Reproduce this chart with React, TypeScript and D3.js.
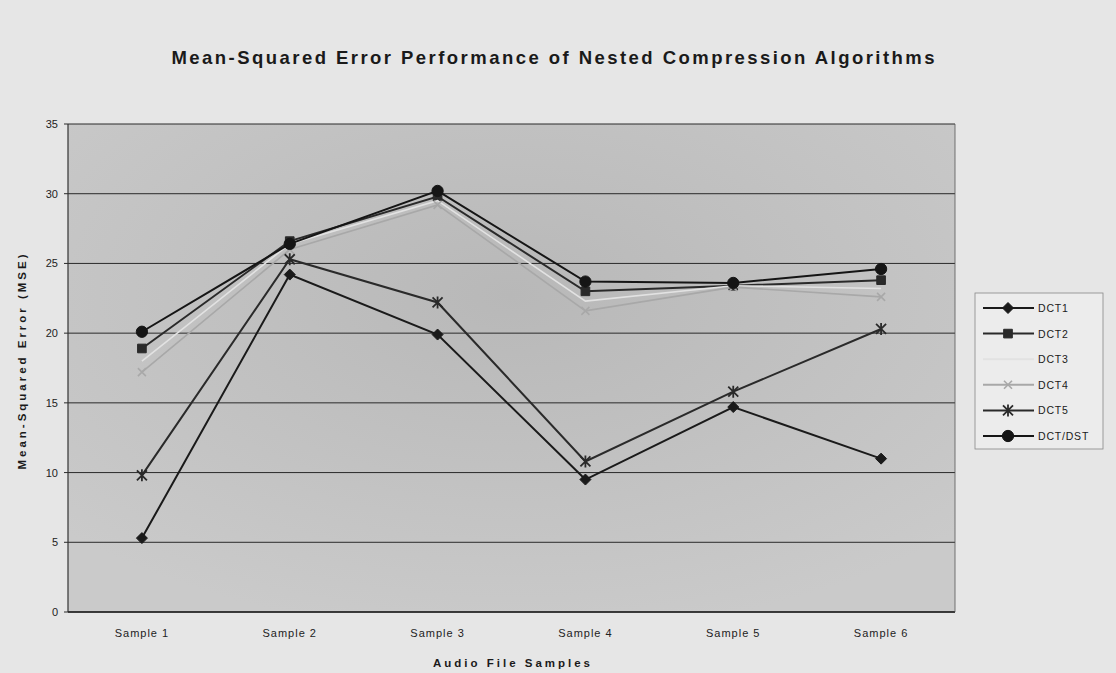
import React from "react";
import * as d3 from "d3";

const samples = ["Sample 1", "Sample 2", "Sample 3", "Sample 4", "Sample 5", "Sample 6"];
const yTicks = [0, 5, 10, 15, 20, 25, 30, 35];

const dct1 = [5.3, 24.2, 19.9, 9.5, 14.7, 11.0];
const dct2 = [18.9, 26.6, 29.8, 23.0, 23.4, 23.8];
const dct3 = [18.0, 26.4, 29.5, 22.3, 23.4, 23.2];
const dct4 = [17.2, 26.0, 29.2, 21.6, 23.3, 22.6];
const dct5 = [9.8, 25.3, 22.2, 10.8, 15.8, 20.3];
const dctdst = [20.1, 26.4, 30.2, 23.7, 23.6, 24.6];

const seriesNames = ["DCT1", "DCT2", "DCT3", "DCT4", "DCT5", "DCT/DST"];
const seriesValues = [dct1, dct2, dct3, dct4, dct5, dctdst];
const seriesColors = ["#1a1a1a", "#2a2a2a", "#e2e2e2", "#a8a8a8", "#2a2a2a", "#151515"];
const seriesMarkers = ["diamond", "square", "none", "x", "star", "circle"];

const W = 1116;
const H = 673;
const plot = { left: 68, right: 955, top: 124, bottom: 612 };

function Marker({ type, x, y, color }: { type: string; x: number; y: number; color: string }) {
  if (type === "none") return null;
  if (type === "x") {
    const s = 4;
    return (
      <path
        d={`M${x - s},${y - s}L${x + s},${y + s}M${x - s},${y + s}L${x + s},${y - s}`}
        stroke={color}
        strokeWidth={1.6}
      />
    );
  }
  if (type === "star") {
    const s = 5;
    return (
      <path
        d={`M${x - s},${y - s}L${x + s},${y + s}M${x - s},${y + s}L${x + s},${y - s}M${x},${y - s - 1}L${x},${y + s + 1}`}
        stroke={color}
        strokeWidth={1.8}
      />
    );
  }
  if (type === "diamond") {
    const s = 5.5;
    return (
      <path
        d={`M${x},${y - s}L${x + s},${y}L${x},${y + s}L${x - s},${y}Z`}
        fill={color}
        stroke={color}
        strokeWidth={1}
      />
    );
  }
  const symType = type === "square" ? d3.symbolSquare : d3.symbolCircle;
  const size = type === "square" ? 75 : 100;
  const p = d3.symbol().type(symType).size(size)() as string;
  return <path d={p} transform={`translate(${x},${y})`} fill={color} stroke={color} strokeWidth={1} />;
}

export default function App() {
  const x = d3.scalePoint<string>().domain(samples).range([plot.left, plot.right]).padding(0.5);
  const y = d3.scaleLinear().domain([0, 35]).range([plot.bottom, plot.top]);
  const line = d3
    .line<number>()
    .x((_, i) => x(samples[i]) as number)
    .y((d) => y(d));

  const font = "'Liberation Sans', Arial, sans-serif";
  const legendX = 975;
  const legendY = 293;
  const legendStep = 25.6;

  return (
    <svg
      width={W}
      height={H}
      style={{ position: "fixed", left: 0, top: 0, display: "block" }}
      fontFamily={font}
    >
      <defs>
        <radialGradient id="plotGrad" cx="50%" cy="35%" r="70%">
          <stop offset="0%" stopColor="#b8b8b8" />
          <stop offset="100%" stopColor="#cacaca" />
        </radialGradient>
      </defs>
      <rect x={0} y={0} width={W} height={H} fill="#e6e6e6" />
      <text
        x={553}
        y={64}
        textAnchor="middle"
        fontSize={18.5}
        fontWeight="bold"
        fill="#1a1a1a"
        textLength={763}
        lengthAdjust="spacing"
      >
        Mean-Squared Error Performance of Nested Compression Algorithms
      </text>

      <rect
        x={plot.left}
        y={plot.top}
        width={plot.right - plot.left}
        height={plot.bottom - plot.top}
        fill="url(#plotGrad)"
      />
      {yTicks.map((t) => (
        <g key={t}>
          <line x1={plot.left} x2={plot.right} y1={y(t)} y2={y(t)} stroke="#2a2a2a" strokeWidth={1} />
          <line x1={plot.left - 4} x2={plot.left} y1={y(t)} y2={y(t)} stroke="#2a2a2a" strokeWidth={1} />
          <text x={58} y={y(t) + 4} textAnchor="end" fontSize={11} fill="#222">
            {t}
          </text>
        </g>
      ))}
      <line x1={plot.left} x2={plot.left} y1={plot.top} y2={plot.bottom} stroke="#333" strokeWidth={1.2} />
      <line x1={plot.left} x2={plot.right} y1={plot.bottom} y2={plot.bottom} stroke="#222" strokeWidth={1.5} />
      <line x1={plot.right} x2={plot.right} y1={plot.top} y2={plot.bottom} stroke="#555" strokeWidth={0.8} />
      {samples.map((s) => (
        <text
          key={s}
          x={x(s) as number}
          y={637}
          textAnchor="middle"
          fontSize={11}
          fill="#222"
          letterSpacing={1}
        >
          {s}
        </text>
      ))}
      <text
        x={(plot.left + plot.right) / 2}
        y={667}
        textAnchor="middle"
        fontSize={11.5}
        fontWeight="bold"
        fill="#1a1a1a"
        textLength={157}
        lengthAdjust="spacing"
      >
        Audio File Samples
      </text>
      <text
        transform={`translate(26,362) rotate(-90)`}
        textAnchor="middle"
        fontSize={11.5}
        fontWeight="bold"
        fill="#1a1a1a"
        textLength={215}
        lengthAdjust="spacing"
      >
        Mean-Squared Error (MSE)
      </text>

      {seriesValues.map((vals, si) => (
        <g key={seriesNames[si]}>
          <path
            d={line(vals) as string}
            fill="none"
            stroke={seriesColors[si]}
            strokeWidth={si === 2 || si === 3 ? 1.6 : 2}
          />
          {vals.map((v, i) => (
            <Marker
              key={i}
              type={seriesMarkers[si]}
              x={x(samples[i]) as number}
              y={y(v)}
              color={seriesColors[si]}
            />
          ))}
        </g>
      ))}

      <rect x={legendX} y={legendY} width={128} height={156} fill="#ececec" stroke="#888" strokeWidth={0.8} />
      {seriesNames.map((n, i) => {
        const ly = legendY + 15 + i * legendStep;
        return (
          <g key={n}>
            <line x1={983} x2={1034} y1={ly} y2={ly} stroke={seriesColors[i]} strokeWidth={2} />
            <Marker type={seriesMarkers[i]} x={1008} y={ly} color={seriesColors[i]} />
            <text x={1038} y={ly + 4} fontSize={10.5} fill="#1a1a1a" letterSpacing={0.8}>
              {n}
            </text>
          </g>
        );
      })}
    </svg>
  );
}
